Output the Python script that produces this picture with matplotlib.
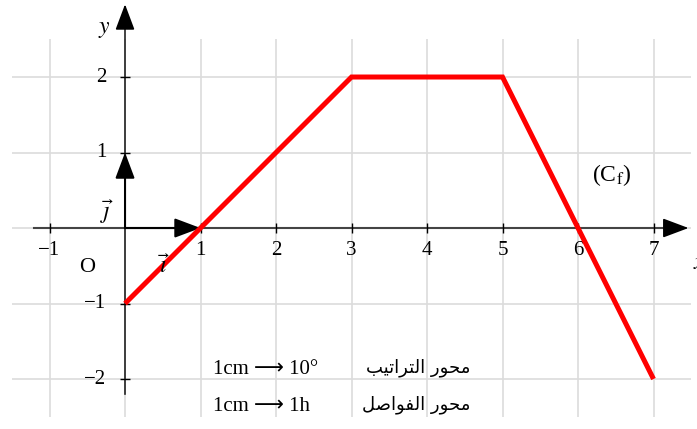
import matplotlib.pyplot as plt

# piecewise linear curve (C_f)
xs = [0, 3, 5, 7]
ys = [-1, 2, 2, -2]

x_ticks = [-1, 1, 2, 3, 4, 5, 6, 7]
y_ticks = [-2, -1, 1, 2]
grid_x = [-1, 0, 1, 2, 3, 4, 5, 6, 7]
grid_y = [-2, -1, 0, 1, 2]

# Arabic labels, already in presentation forms and visual (left-to-right) order
lbl_ord = "".join(chr(c) for c in [0xFEE3, 0xFEA4, 0xFEEE, 0xFEAD]) + " " + \
    "".join(chr(c) for c in [0xFE8D, 0xFEDF, 0xFE98, 0xFEAE, 0xFE8D, 0xFE97, 0xFEF4, 0xFE90])
lbl_abs = "".join(chr(c) for c in [0xFEE3, 0xFEA4, 0xFEEE, 0xFEAD]) + " " + \
    "".join(chr(c) for c in [0xFE8D, 0xFEDF, 0xFED4, 0xFEEE, 0xFE8D, 0xFEBB, 0xFEDE])
lbl_ord = lbl_ord[::-1]
lbl_abs = lbl_abs[::-1]

plt.rcParams['mathtext.fontset'] = 'stix'
serif = ['Liberation Serif', 'DejaVu Sans']
fs = 15

fig = plt.figure(figsize=(6.97, 4.29), dpi=100)
ax = fig.add_axes([0, 0, 1, 1])
ax.set_xlim(-1.656, 7.576)
ax.set_ylim(-2.662, 3.02)
ax.axis('off')

# grid
ax.vlines(grid_x, -2.5, 2.5, color='#dcdcdc', lw=1.2, zorder=0)
ax.hlines(grid_y, -1.5, 7.5, color='#dcdcdc', lw=1.2, zorder=0)

# axes with arrow heads
ax.plot([-1.2, 7.3], [0, 0], color='#444444', lw=1.5, zorder=1)
ax.plot([0, 0], [-2.2, 2.8], color='#222222', lw=1.2, zorder=1)
head = '-|>,head_length=0.8,head_width=0.3'
ax.annotate('', xy=(7.5, 0), xytext=(7.2, 0),
            arrowprops=dict(arrowstyle=head, color='black', lw=1.2,
                            mutation_scale=20))
ax.annotate('', xy=(0, 3.0), xytext=(0, 2.7),
            arrowprops=dict(arrowstyle=head, color='black', lw=1.2,
                            mutation_scale=20))

# unit vectors i and j
ax.annotate('', xy=(1, 0), xytext=(0, 0),
            arrowprops=dict(arrowstyle=head, color='black', lw=1.5,
                            mutation_scale=20, shrinkA=0, shrinkB=0))
ax.annotate('', xy=(0, 1), xytext=(0, 0),
            arrowprops=dict(arrowstyle=head, color='black', lw=1.5,
                            mutation_scale=20, shrinkA=0, shrinkB=0))

# tick marks
tick = 0.065
ax.vlines(x_ticks, -tick, tick, color='black', lw=1.0)
ax.hlines(y_ticks, -tick, tick, color='black', lw=1.0)

# tick labels
for v in x_ticks:
    s = str(v).replace('-', '\u2212')
    ax.text(v, -0.17, s, ha='center', va='top', fontsize=fs, family=serif)
for v in y_ticks:
    s = str(v).replace('-', '\u2212')
    ax.text(-0.25, v, s, ha='right', va='center', fontsize=fs, family=serif)

# curve
ax.plot(xs, ys, color='#ff0000', lw=3.6, solid_capstyle='butt',
        solid_joinstyle='miter', zorder=3)

# labels
ax.text(-0.5, -0.52, 'O', ha='center', va='center', fontsize=fs + 1, family=serif)
ax.text(0.52, -0.5, r'$\vec{\imath}$', ha='center', va='center', fontsize=fs + 2)
ax.text(-0.24, 0.22, r'$\vec{\jmath}$', ha='center', va='center', fontsize=fs + 2)
ax.text(7.52, -0.45, r'$x$', ha='left', va='center', fontsize=fs + 2)
ax.text(-0.27, 2.65, r'$y$', ha='center', va='center', fontsize=fs + 2)
ax.text(6.45, 0.7, r'(C$_{\mathrm{f}}$)', ha='center', va='center', fontsize=fs + 2,
        family=serif)

# scale legend
ax.text(1.16, -1.87, '1cm \u27f6 10\u00b0', ha='left', va='center', fontsize=fs,
        family=serif)
ax.text(1.16, -2.36, '1cm \u27f6 1h', ha='left', va='center', fontsize=fs,
        family=serif)
ax.text(4.57, -1.85, lbl_ord, ha='right', va='center', fontsize=13,
        family=['DejaVu Sans'])
ax.text(4.57, -2.34, lbl_abs, ha='right', va='center', fontsize=13,
        family=['DejaVu Sans'])

fig.savefig('out.png', dpi=100)
